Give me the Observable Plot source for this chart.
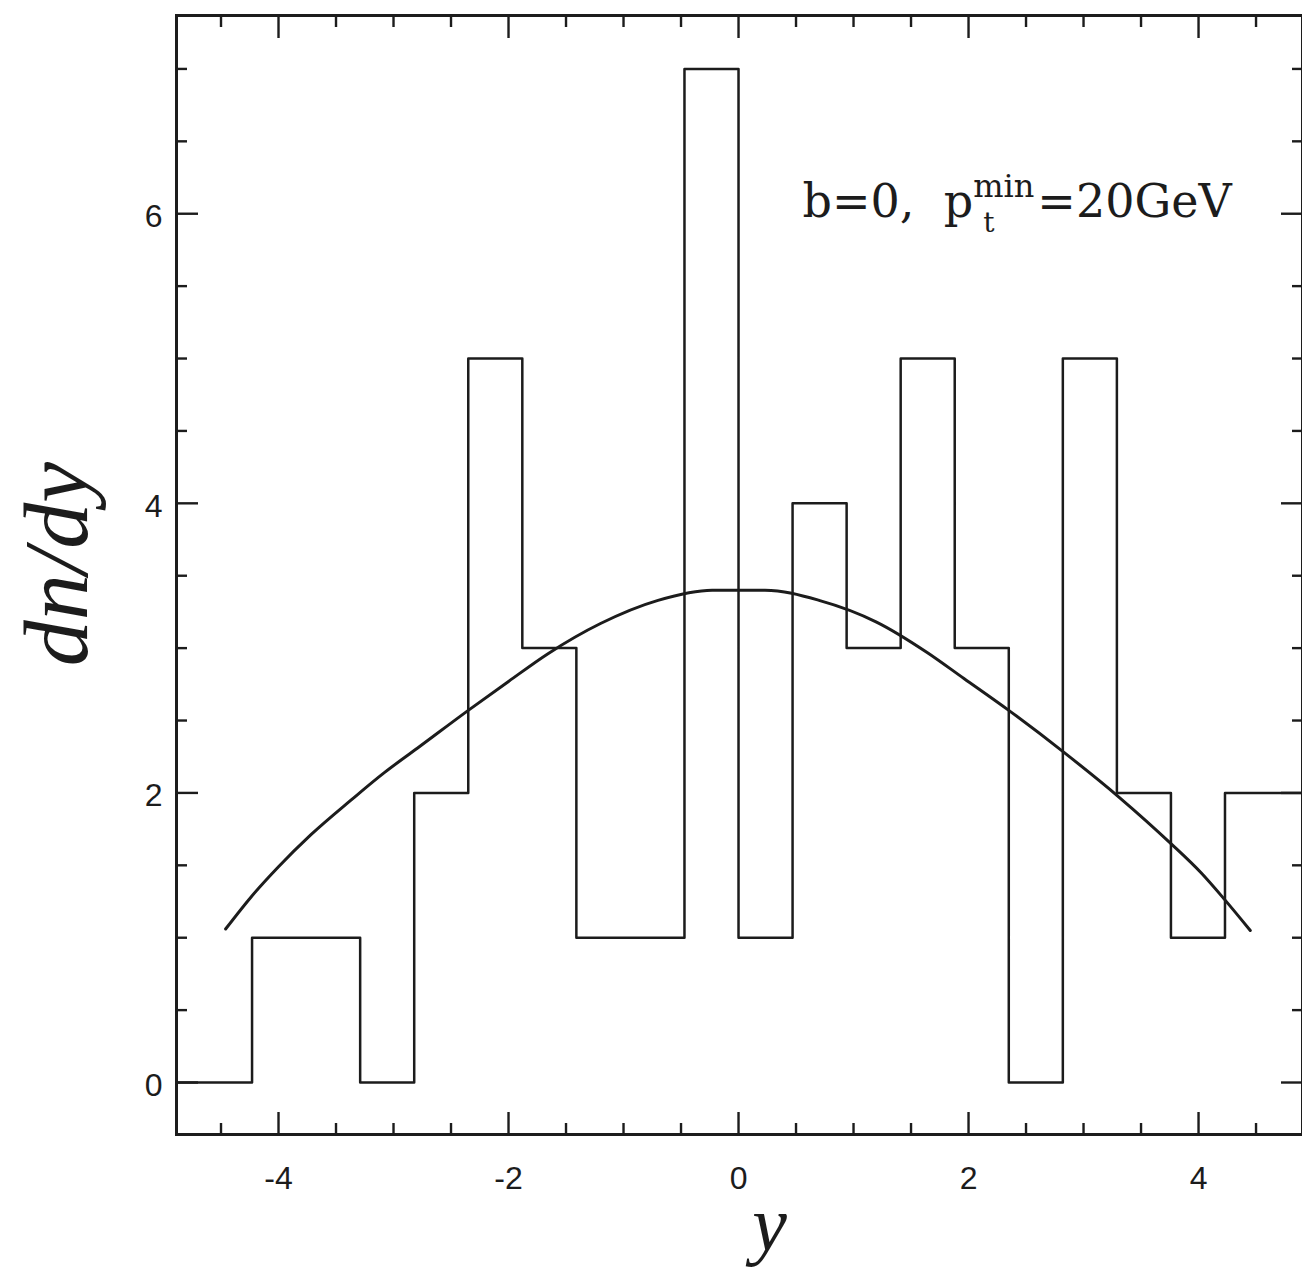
<!DOCTYPE html>
<html>
<head>
<meta charset="utf-8">
<script src="https://cdn.jsdelivr.net/npm/d3@7"></script>
<script src="https://cdn.jsdelivr.net/npm/@observablehq/plot@0.6"></script>
<style>
  html, body { margin: 0; padding: 0; background: #fff; overflow: hidden; }
  svg text { white-space: pre; }
</style>
</head>
<body>
<script>
// ---- data ----
// histogram bin edges (y, rapidity) and counts per bin (dn/dy)
const binEdges = [-5, -4.23, -3.76, -3.29, -2.82, -2.35, -1.88, -1.41, -0.94, -0.47, 0,
                  0.47, 0.94, 1.41, 1.88, 2.35, 2.82, 3.29, 3.76, 4.23, 5];
const binCounts = [0, 1, 1, 0, 2, 5, 3, 1, 1, 7, 1, 4, 3, 5, 3, 0, 5, 2, 1, 2];

// smooth curve
const curveX = [-4.46, -4.24, -4.0, -3.72, -3.37, -3.08, -2.79, -2.35, -2.0, -1.66, -1.2, -0.7,
                -0.23, 0.23, 0.7, 1.2, 1.64, 1.96, 2.35, 2.83, 3.31, 3.76, 4.02, 4.22, 4.45];
const curveY = [1.06, 1.28, 1.49, 1.71, 1.95, 2.14, 2.31, 2.57, 2.77, 2.96, 3.17, 3.33,
                3.40, 3.40, 3.33, 3.18, 2.97, 2.79, 2.57, 2.28, 1.97, 1.65, 1.45, 1.27, 1.05];

// ticks
const xMajor = [-4, -2, 0, 2, 4];
const xMinor = [-4.5, -3.5, -3, -2.5, -1.5, -1, -0.5, 0.5, 1, 1.5, 2.5, 3, 3.5, 4.5];
const yMajor = [0, 2, 4, 6];
const yMinor = [0.5, 1, 1.5, 2.5, 3, 3.5, 4.5, 5, 5.5, 6.5, 7];

// labels
const xLabel = "y";
const yLabel = "dn/dy";
const annoMain = "b=0,  p";
const annoSup = "min";
const annoSub = "t";
const annoTail = "=20GeV";
const annoAt = {x: 0.557, y: 5.974};

// ---- build ----
const histPts = binEdges.map((e, i) => ({x: e, y: binCounts[Math.min(i, binCounts.length - 1)]}));
const curvePts = curveX.map((x, i) => ({x, y: curveY[i]}));
const ink = "#1c1c1c";
const fmt = d => (d < 0 ? "-" : "") + Math.abs(d);

const plot = Plot.plot({
  width: 1302,
  height: 1274,
  marginLeft: 176,
  marginRight: 0,
  marginTop: 15,
  marginBottom: 140,
  x: {domain: [-4.887, 4.904]},
  y: {domain: [-0.359, 7.369]},
  style: {fontFamily: "'Liberation Sans', Arial, sans-serif", background: "#fff", color: ink, overflow: "visible"},
  marks: [
    Plot.line(histPts, {x: "x", y: "y", curve: "step-after", stroke: ink, strokeWidth: 2.5, clip: true}),
    Plot.line(curvePts, {x: "x", y: "y", curve: "monotone-x", stroke: ink, strokeWidth: 3}),
    Plot.frame({stroke: ink, strokeWidth: 3}),
    // bottom
    Plot.axisX(xMajor, {anchor: "bottom", tickSize: 0, tickPadding: 32, fontSize: 32, tickFormat: fmt, label: null}),
    Plot.axisX(xMajor, {anchor: "bottom", tickSize: -22, fill: "none", label: null, strokeWidth: 2.4}),
    Plot.axisX(xMinor, {anchor: "bottom", tickSize: -11, fill: "none", label: null, strokeWidth: 2.4}),
    // top
    Plot.axisX(xMajor, {anchor: "top", tickSize: -22, fill: "none", label: null, strokeWidth: 2.4}),
    Plot.axisX(xMinor, {anchor: "top", tickSize: -11, fill: "none", label: null, strokeWidth: 2.4}),
    // left
    Plot.axisY(yMajor, {anchor: "left", tickSize: 0, tickPadding: 14, fontSize: 32, tickFormat: fmt, label: null, dy: 3}),
    Plot.axisY(yMajor, {anchor: "left", tickSize: -22, fill: "none", label: null, strokeWidth: 2.4}),
    Plot.axisY(yMinor, {anchor: "left", tickSize: -11, fill: "none", label: null, strokeWidth: 2.4}),
    // right
    Plot.axisY(yMajor, {anchor: "right", tickSize: -22, fill: "none", label: null, strokeWidth: 2.4}),
    Plot.axisY(yMinor, {anchor: "right", tickSize: -11, fill: "none", label: null, strokeWidth: 2.4}),
    // axis titles
    Plot.text([xLabel], {text: d => d, frameAnchor: "bottom", lineAnchor: "bottom", textAnchor: "middle",
      dx: 30, dy: 115, fontFamily: "'Liberation Serif', 'DejaVu Serif', serif", fontStyle: "italic", fontSize: 78, fill: ink}),
    Plot.text([yLabel], {text: d => d, frameAnchor: "left", rotate: -90, lineAnchor: "bottom", textAnchor: "middle",
      dx: -90, dy: -11, fontFamily: "'Liberation Serif', 'DejaVu Serif', serif", fontStyle: "italic", fontSize: 92, fill: ink}),
    // annotation
    Plot.text([annoMain], {text: d => d, x: () => annoAt.x, y: () => annoAt.y, textAnchor: "start", lineAnchor: "bottom",
      fontFamily: "'DejaVu Serif', serif", fontSize: 46, fill: ink})
  ]
});

document.body.appendChild(plot);

// superscript / subscript of the annotation
const svg = d3.select(plot.tagName.toLowerCase() === "svg" ? plot : plot.querySelector("svg"));
svg.selectAll("text").filter(function() { return this.textContent === annoMain; }).each(function() {
  const t = d3.select(this);
  const sup = t.append("tspan").attr("font-size", 32).attr("dy", -20).text(annoSup);
  const supW = sup.node().getComputedTextLength();
  const sub = t.append("tspan").attr("font-size", 28).attr("dx", -supW + 10).attr("dy", 35).text(annoSub);
  const subW = sub.node().getComputedTextLength();
  t.append("tspan").attr("font-size", 46).attr("dx", supW + 3 - 10 - subW).attr("dy", -15).text(annoTail);
});
</script>
</body>
</html>
